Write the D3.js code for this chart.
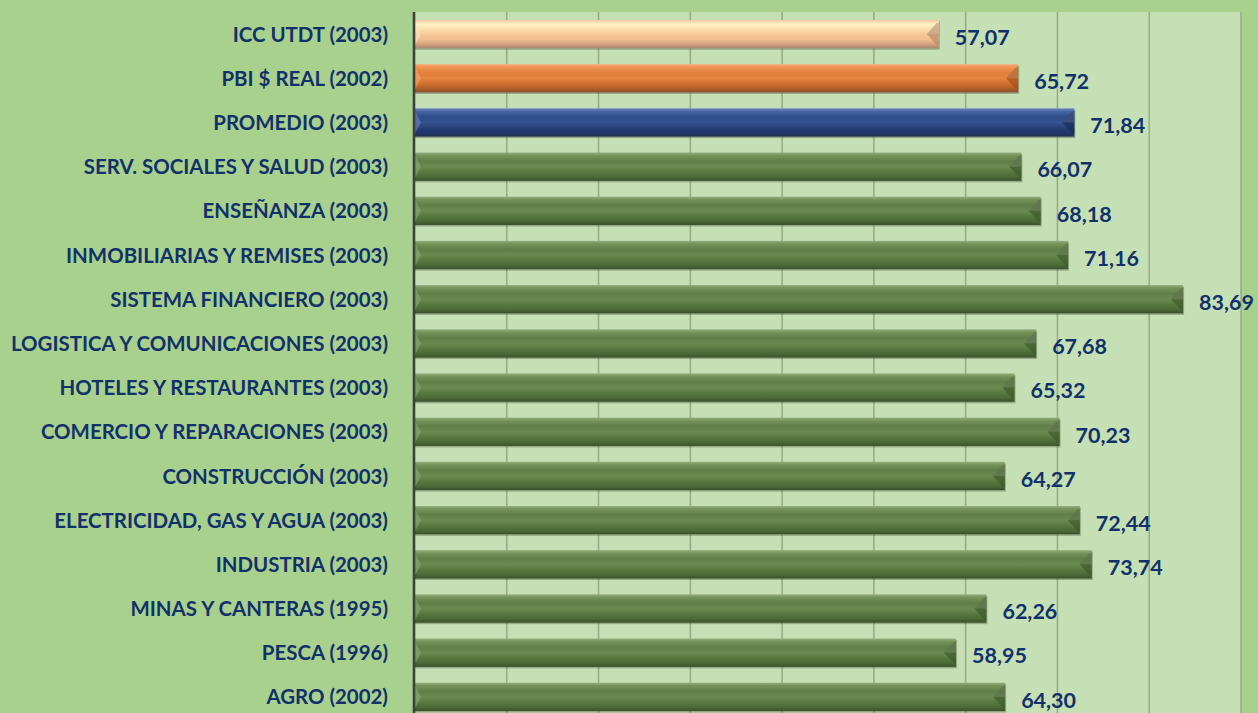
<!DOCTYPE html>
<html>
<head>
<meta charset="utf-8">
<script src="https://cdn.jsdelivr.net/npm/d3@7/dist/d3.min.js"></script>
<style>
  html, body { margin: 0; padding: 0; background: #a9d18e; }
  svg { display: block; }
</style>
</head>
<body>
<svg id="chart" width="1258" height="713"></svg>
<script>
// ---- data ----
const categories = [
  "ICC UTDT (2003)",
  "PBI $ REAL (2002)",
  "PROMEDIO (2003)",
  "SERV. SOCIALES Y SALUD (2003)",
  "ENSEÑANZA (2003)",
  "INMOBILIARIAS Y REMISES (2003)",
  "SISTEMA FINANCIERO (2003)",
  "LOGISTICA Y COMUNICACIONES (2003)",
  "HOTELES Y RESTAURANTES (2003)",
  "COMERCIO Y REPARACIONES (2003)",
  "CONSTRUCCIÓN (2003)",
  "ELECTRICIDAD, GAS Y AGUA (2003)",
  "INDUSTRIA (2003)",
  "MINAS Y CANTERAS (1995)",
  "PESCA (1996)",
  "AGRO (2002)"
];
const values = [57.07, 65.72, 71.84, 66.07, 68.18, 71.16, 83.69, 67.68, 65.32, 70.23, 64.27, 72.44, 73.74, 62.26, 58.95, 64.30];
const barKinds = ["peach", "orange", "blue", "green", "green", "green", "green", "green", "green", "green", "green", "green", "green", "green", "green", "green"];
const xTicks = [0, 10, 20, 30, 40, 50, 60, 70, 80, 90];

// ---- layout ----
const W = 1258, H = 713;
const plot = { left: 415, right: 1241, top: 12, bottom: 719 };
const svg = d3.select("#chart");

const x = d3.scaleLinear().domain([0, 90]).range([plot.left, plot.right]);
const y = d3.scaleBand().domain(categories).range([plot.top, plot.bottom]).paddingInner(0.36).paddingOuter(0.18);

// background
svg.append("rect").attr("x", 0).attr("y", 0).attr("width", W).attr("height", H).attr("fill", "#a9d18e");
svg.append("rect").attr("x", plot.left).attr("y", plot.top)
  .attr("width", plot.right - plot.left).attr("height", H - plot.top).attr("fill", "#c5e0b4");

// gradients
const defs = svg.append("defs");
const palettes = {
  green: [["0", "#93ad7e"], ["0.1", "#76955d"], ["0.3", "#5f7f47"], ["0.5", "#6a8a50"], ["0.68", "#587a40"], ["0.88", "#4a6836"], ["1", "#38502b"]],
  blue: [["0", "#6f8cc2"], ["0.1", "#4a68a6"], ["0.3", "#2e4c8a"], ["0.5", "#34528f"], ["0.7", "#263f78"], ["0.9", "#1f3566"], ["1", "#223050"]],
  orange: [["0", "#f7b07a"], ["0.1", "#f09555"], ["0.3", "#e27f3c"], ["0.5", "#e68440"], ["0.7", "#cf6f30"], ["0.9", "#a85a2a"], ["1", "#8a5030"]],
  peach: [["0", "#f3c6a4"], ["0.15", "#fff2c4"], ["0.32", "#fbe0b0"], ["0.5", "#f6c797"], ["0.7", "#f1bd90"], ["0.88", "#cf9d7c"], ["1", "#a88670"]]
};
const bevelColors = { green: "#3e5a2c", blue: "#1a2c58", orange: "#a4501c", peach: "#b88b6c" };
const leftBevel = { green: "#8fae78", blue: "#6d8bc4", orange: "#f6ad78", peach: "#fde3c4" };
Object.entries(palettes).forEach(([k, stops]) => {
  const g = defs.append("linearGradient").attr("id", "g-" + k).attr("x1", 0).attr("y1", 0).attr("x2", 0).attr("y2", 1);
  stops.forEach(([o, c]) => g.append("stop").attr("offset", o).attr("stop-color", c));
});

// gridlines
svg.append("g").selectAll("line").data(xTicks.filter(t => t > 0)).join("line")
  .attr("x1", d => x(d)).attr("x2", d => x(d))
  .attr("y1", plot.top).attr("y2", H)
  .attr("stroke", "#98ad8a").attr("stroke-width", 1.6);

// bars
const bars = svg.append("g");
const bw = y.bandwidth();
const bev = 12;
categories.forEach((c, i) => {
  const k = barKinds[i];
  const x0 = x(0), x1 = x(values[i]), y0 = y(c), y1 = y0 + bw;
  const g = bars.append("g");
  // shadow
  g.append("rect").attr("x", x0).attr("y", y0 + 1.5).attr("width", x1 - x0 + 1).attr("height", bw)
    .attr("fill", "rgba(60,70,50,0.35)");
  g.append("rect").attr("x", x0).attr("y", y0).attr("width", x1 - x0).attr("height", bw)
    .attr("fill", "url(#g-" + k + ")");
  // right bevel: darker end cap with triangle pointing left
  g.append("polygon")
    .attr("points", [[x1 - bev, y0 + bw / 2], [x1 - 2, y0 + 3], [x1, y0 + 3], [x1, y1 - 3], [x1 - 2, y1 - 3]].map(p => p.join(",")).join(" "))
    .attr("fill", bevelColors[k]).attr("opacity", 0.7);
  g.append("polygon")
    .attr("points", [[x1 - bev, y0 + bw / 2], [x1 - 2, y0 + 3], [x1, y0 + 3], [x1, y0 + bw / 2]].map(p => p.join(",")).join(" "))
    .attr("fill", "#ffffff").attr("opacity", 0.12);
  // left bevel
  g.append("polygon")
    .attr("points", [[x0, y0 + 3], [x0 + 6, y0 + bw / 2], [x0, y1 - 3]].map(p => p.join(",")).join(" "))
    .attr("fill", leftBevel[k]).attr("opacity", 0.55);
});

// axis line
svg.append("line").attr("x1", x(0) - 1).attr("x2", x(0) - 1).attr("y1", plot.top).attr("y2", H)
  .attr("stroke", "#3f3f3f").attr("stroke-width", 2.6);

// category labels
const font = "Lato, 'Open Sans', 'Liberation Sans', sans-serif";
const labels = svg.append("g").selectAll("text").data(categories).join("text")
  .attr("x", 388).attr("y", d => y(d) + bw / 2)
  .attr("dy", "0.36em")
  .attr("text-anchor", "end")
  .attr("font-family", font).attr("font-weight", 700).attr("font-size", 21)
  .attr("fill", "#12306a")
  .text(d => d);
// fit widest label to reference width
let maxW = 0;
labels.each(function () { maxW = Math.max(maxW, this.getComputedTextLength()); });
const kfit = 377 / maxW;
labels.each(function () {
  const w = this.getComputedTextLength();
  d3.select(this).attr("textLength", w * kfit).attr("lengthAdjust", "spacingAndGlyphs");
});

// value labels
const fmt = v => v.toFixed(2).replace(".", ",");
svg.append("g").selectAll("text").data(categories).join("text")
  .attr("x", (d, i) => x(values[i]) + 16)
  .attr("y", d => y(d) + bw / 2 + 3)
  .attr("dy", "0.36em")
  .attr("font-family", font).attr("font-weight", 700).attr("font-size", 21.5)
  .attr("fill", "#12306a")
  .text((d, i) => fmt(values[i]));
</script>
</body>
</html>
